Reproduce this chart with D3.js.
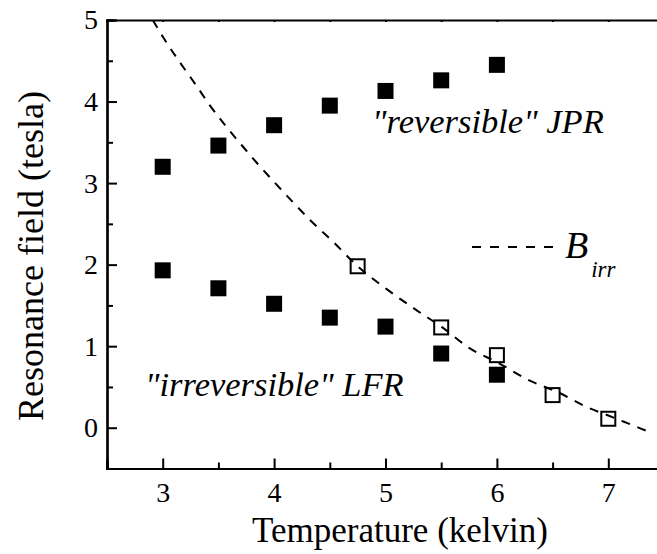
<!DOCTYPE html>
<html lang="en">
<head>
  <meta charset="UTF-8">
  <title>Resonance field vs temperature</title>
  <script src="https://d3js.org/d3.v7.min.js"></script>
  <style>
    body { margin: 0; background: #fff; }
    text { font-family: "Liberation Serif", "Times New Roman", serif; fill: #000; }
    .ann { font-style: italic; }
  </style>
</head>
<body>
  <svg width="657" height="554"></svg>

  <script>
    // temperatures of the measured points
    const temps = [3, 3.5, 4, 4.5, 5, 5.5, 6];
    // "reversible" JPR (filled squares, upper branch)
    const jprField = [3.20, 3.46, 3.71, 3.95, 4.13, 4.26, 4.45];
    // "irreversible" LFR (filled squares, lower branch)
    const lfrField = [1.93, 1.71, 1.52, 1.35, 1.24, 0.91, 0.65];
    // open squares along B_irr
    const irrTemps = [4.75, 5.5, 6, 6.5, 7];
    const irrField = [1.98, 1.23, 0.89, 0.40, 0.11];
    // dashed B_irr line
    const curveTemps = [2.91, 3.05, 3.17, 3.30, 3.42, 3.56, 3.70, 3.85, 4.01, 4.18, 4.35, 4.53, 4.75, 5.02, 5.28, 5.51, 5.75, 6.02, 6.29, 6.54, 6.83, 7.0, 7.2, 7.4];
    const curveField = [5.0, 4.69, 4.45, 4.20, 3.96, 3.71, 3.48, 3.24, 3.00, 2.75, 2.51, 2.28, 1.98, 1.69, 1.44, 1.23, 0.98, 0.79, 0.58, 0.44, 0.24, 0.15, 0.04, -0.07];

    const xTicks = [3, 4, 5, 6, 7];
    const yTicks = [0, 1, 2, 3, 4, 5];

    const svg = d3.select("svg");

    const x = d3.scaleLinear().domain([2.5, 7.5]).range([107, 664]);
    const y = d3.scaleLinear().domain([-0.5, 5]).range([468.5, 20]);

    const minorX = d3.range(2.5, 7.51, 0.5).filter(v => !xTicks.includes(v));
    const minorY = d3.range(-0.5, 5.01, 0.5).filter(v => !yTicks.includes(v));

    // bottom axis (ticks inward)
    const gx = svg.append("g").attr("transform", `translate(0,${y(-0.5)})`);
    gx.call(d3.axisBottom(x).tickValues(xTicks).tickSize(-10).tickPadding(14).tickFormat(d3.format("d")));
    gx.append("g").call(d3.axisBottom(x).tickValues(minorX).tickSize(-6).tickFormat(""));

    // left axis
    const gy = svg.append("g").attr("transform", `translate(${x(2.5)},0)`);
    gy.call(d3.axisLeft(y).tickValues(yTicks).tickSize(-10).tickPadding(9).tickFormat(d3.format("d")));
    gy.append("g").call(d3.axisLeft(y).tickValues(minorY).tickSize(-6).tickFormat(""));

    // top axis, tiny ticks only
    const gt = svg.append("g").attr("transform", `translate(0,${y(5)})`);
    gt.call(d3.axisTop(x).tickValues(d3.range(2.5, 7.51, 0.5)).tickSize(-2).tickFormat(""));

    svg.selectAll(".domain").attr("stroke-width", 2.2).attr("stroke", "#000");
    svg.selectAll(".tick line").attr("stroke-width", 2).attr("stroke", "#000");
    svg.selectAll(".tick text").style("font-size", "28px");

    // axis titles
    svg.append("text")
      .attr("x", 400).attr("y", 542)
      .attr("text-anchor", "middle")
      .style("font-size", "35px")
      .text("Temperature (kelvin)");

    svg.append("text")
      .attr("transform", "translate(43,256) rotate(-90)")
      .attr("text-anchor", "middle")
      .style("font-size", "36px")
      .text("Resonance field (tesla)");

    // B_irr dashed line
    const plot = svg.append("g");
    plot.append("clipPath").attr("id", "clip")
      .append("rect").attr("x", x(2.5)).attr("y", y(5)).attr("width", x(7.5) - x(2.5)).attr("height", y(-0.5) - y(5));

    const line = d3.line()
      .x(d => x(d[0]))
      .y(d => y(d[1]))
      .curve(d3.curveMonotoneX);

    plot.append("path")
      .datum(d3.zip(curveTemps, curveField))
      .attr("clip-path", "url(#clip)")
      .attr("d", line)
      .attr("fill", "none")
      .attr("stroke", "#000")
      .attr("stroke-width", 2)
      .attr("stroke-dasharray", "9,8");

    const sq = 16;

    // filled squares
    plot.selectAll(".jpr")
      .data(d3.zip(temps, jprField))
      .join("rect")
      .attr("x", d => x(d[0]) - sq / 2)
      .attr("y", d => y(d[1]) - sq / 2)
      .attr("width", sq).attr("height", sq)
      .attr("fill", "#000");

    plot.selectAll(".lfr")
      .data(d3.zip(temps, lfrField))
      .join("rect")
      .attr("x", d => x(d[0]) - sq / 2)
      .attr("y", d => y(d[1]) - sq / 2)
      .attr("width", sq).attr("height", sq)
      .attr("fill", "#000");

    // open squares
    plot.selectAll(".irr")
      .data(d3.zip(irrTemps, irrField))
      .join("rect")
      .attr("x", d => x(d[0]) - (sq - 2) / 2)
      .attr("y", d => y(d[1]) - (sq - 2) / 2)
      .attr("width", sq - 2).attr("height", sq - 2)
      .attr("fill", "none")
      .attr("stroke", "#000")
      .attr("stroke-width", 2);

    // annotations
    svg.append("text").attr("class", "ann")
      .attr("x", 372).attr("y", 133).style("font-size", "34.5px")
      .text('"reversible" JPR');

    svg.append("text").attr("class", "ann")
      .attr("x", 145).attr("y", 396).style("font-size", "34.5px")
      .text('"irreversible" LFR');

    // legend for B_irr
    svg.append("line")
      .attr("x1", 472).attr("x2", 560)
      .attr("y1", 247).attr("y2", 247)
      .attr("stroke", "#000").attr("stroke-width", 2)
      .attr("stroke-dasharray", "9,9");

    const leg = svg.append("text").attr("class", "ann").attr("x", 565).attr("y", 258);
    leg.append("tspan").style("font-size", "38px").text("B");
    leg.append("tspan").style("font-size", "23px").attr("dx", 3).attr("dy", 19).text("irr");
  </script>
</body>
</html>
